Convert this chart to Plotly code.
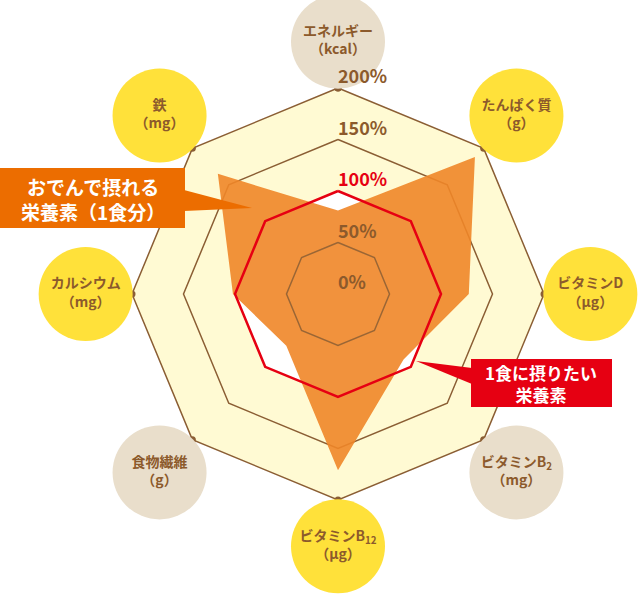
import plotly.graph_objects as go

W, H = 638, 594

categories = ["エネルギー", "たんぱく質", "ビタミンD", "ビタミンB2", "ビタミンB12", "食物繊維", "カルシウム", "鉄"]
label_html = ["エネルギー", "たんぱく質", "ビタミンD", "ビタミンB<sub>2</sub>", "ビタミンB<sub>12</sub>", "食物繊維", "カルシウム", "鉄"]
units = ["（kcal）", "（g）", "（μg）", "（mg）", "（μg）", "（g）", "（mg）", "（mg）"]
label_kind = ["beige", "yellow", "yellow", "beige", "yellow", "beige", "yellow", "yellow"]

oden_values = [81, 188, 127, 90, 171, 71, 102, 165]
target_value = 100
tick_values = [0, 50, 100, 150, 200]
tick_labels = ["0%", "50%", "100%", "150%", "200%"]
label_radius = 245

BROWN = "#8B5E34"
TEXT_BROWN = "#8C5A2C"
RED = "#E60012"
ORANGE = "rgba(240,134,40,0.90)"
LIGHT = "#FFFAD3"
YELLOW = "#FFE13A"
BEIGE = "#E9DECB"

theta_closed = categories + [categories[0]]

def ring(level):
    return [level] * (len(categories) + 1)

fig = go.Figure()

# light yellow background up to 200%
fig.add_trace(go.Scatterpolar(r=ring(200), theta=theta_closed, mode="lines", fill="toself",
                              fillcolor=LIGHT, line=dict(color=LIGHT, width=0), hoverinfo="skip"))
# white inside 100%
fig.add_trace(go.Scatterpolar(r=ring(100), theta=theta_closed, mode="lines", fill="toself",
                              fillcolor="white", line=dict(color="white", width=0), hoverinfo="skip"))
# 150% ring
fig.add_trace(go.Scatterpolar(r=ring(150), theta=theta_closed, mode="lines",
                              line=dict(color=BROWN, width=1.5), hoverinfo="skip"))
# 200% ring with vertex dots
fig.add_trace(go.Scatterpolar(r=ring(200), theta=theta_closed, mode="lines+markers",
                              line=dict(color=BROWN, width=1.5),
                              marker=dict(color=BROWN, size=7), hoverinfo="skip"))
# oden nutrients
fig.add_trace(go.Scatterpolar(r=oden_values + [oden_values[0]], theta=theta_closed, mode="lines",
                              fill="toself", fillcolor=ORANGE, line=dict(width=0), hoverinfo="skip"))
# 50% ring
fig.add_trace(go.Scatterpolar(r=ring(50), theta=theta_closed, mode="lines",
                              line=dict(color="rgba(139,94,52,0.85)", width=1.5), hoverinfo="skip"))
# 100% target ring
fig.add_trace(go.Scatterpolar(r=ring(target_value), theta=theta_closed, mode="lines",
                              line=dict(color=RED, width=2.5), hoverinfo="skip"))
# category label circles
fig.add_trace(go.Scatterpolar(r=[label_radius] * len(categories), theta=categories,
                              mode="markers+text", cliponaxis=False,
                              marker=dict(size=94, color=[YELLOW if k == "yellow" else BEIGE for k in label_kind],
                                          line=dict(width=0)),
                              text=[f"{n}<br>{u}" for n, u in zip(label_html, units)],
                              textposition="middle center",
                              textfont=dict(family="Noto Sans CJK JP", size=14, weight="bold", color=TEXT_BROWN),
                              hoverinfo="skip"))
# percent labels (r=0 nudged so the centre label is not dropped)
fig.add_trace(go.Scatterpolar(r=[v if v > 0 else 0.01 for v in tick_values],
                              theta=[categories[0]] * len(tick_values), mode="text",
                              text=tick_labels, textposition="top right", cliponaxis=False,
                              textfont=dict(family="Noto Sans CJK JP", size=18, weight="bold",
                                            color=[TEXT_BROWN if v != 100 else RED for v in tick_values]),
                              hoverinfo="skip"))

# polar geometry: 200% -> 206 px, centre at (338, 294) px
cx, cy, R200 = 338, 294, 206
rmax = 260
Rmax = R200 * rmax / 200
dom_x = [(cx - Rmax) / W, (cx + Rmax) / W]
dom_y = [((H - cy) - Rmax) / H, ((H - cy) + Rmax) / H]

def px(x):
    return x / W

def py(y):
    return 1 - y / H

shapes = [
    dict(type="rect", xref="paper", yref="paper", x0=px(0), x1=px(185), y0=py(228), y1=py(168),
         fillcolor="#EC6D00", line=dict(width=0)),
    dict(type="path", xref="paper", yref="paper",
         path=f"M {px(184)},{py(190)} L {px(252)},{py(208)} L {px(184)},{py(211)} Z",
         fillcolor="#EC6D00", line=dict(width=0)),
    dict(type="rect", xref="paper", yref="paper", x0=px(471), x1=px(612), y0=py(407), y1=py(359),
         fillcolor=RED, line=dict(width=0)),
    dict(type="path", xref="paper", yref="paper",
         path=f"M {px(472)},{py(368)} L {px(416)},{py(361)} L {px(472)},{py(384)} Z",
         fillcolor=RED, line=dict(width=0)),
]

annotations = [
    dict(xref="paper", yref="paper", x=px(93), y=py(199), text="おでんで摂れる<br>栄養素（1食分）",
         showarrow=False, xanchor="center", yanchor="middle",
         font=dict(family="Noto Sans CJK JP", size=19, weight="bold", color="white")),
    dict(xref="paper", yref="paper", x=px(541), y=py(383), text="1食に摂りたい<br>栄養素",
         showarrow=False, xanchor="center", yanchor="middle",
         font=dict(family="Noto Sans CJK JP", size=17, weight="bold", color="white")),
]

fig.update_layout(
    width=W, height=H, margin=dict(l=0, r=0, t=0, b=0),
    paper_bgcolor="white", showlegend=False,
    polar=dict(
        domain=dict(x=dom_x, y=dom_y),
        bgcolor="rgba(0,0,0,0)",
        gridshape="linear",
        angularaxis=dict(rotation=90, direction="clockwise", showgrid=False, showline=False,
                         showticklabels=False, ticks="", categoryorder="array", categoryarray=categories),
        radialaxis=dict(range=[0, rmax], visible=False),
    ),
    shapes=shapes,
    annotations=annotations,
)

fig.write_html("out.html", config={"displayModeBar": False},
               post_script="document.body.style.margin='0';document.body.style.overflow='hidden';")
